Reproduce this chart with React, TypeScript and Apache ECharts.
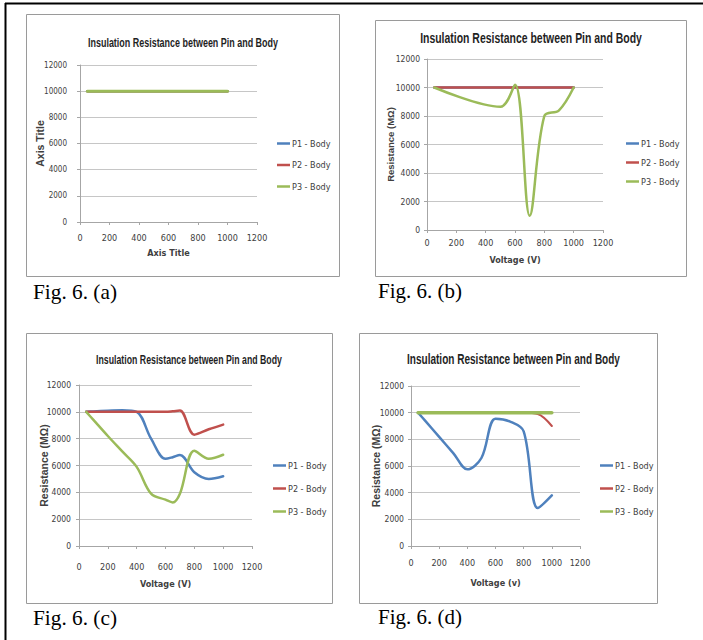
import React, { useEffect, useRef } from "react";
import * as echarts from "echarts";

// ---------- data ----------
const SERIES_NAMES = ["P1 - Body", "P2 - Body", "P3 - Body"];
const CHART_TITLE = "Insulation Resistance between Pin and Body";
const CAPTIONS = ["Fig. 6. (a)", "Fig. 6. (b)", "Fig. 6. (c)", "Fig. 6. (d)"];
const X_TITLES = ["Axis Title", "Voltage (V)", "Voltage (V)", "Voltage (v)"];
const Y_TITLES = ["Axis Title", "Resistance (MΩ)", "Resistance (MΩ)", "Resistance (MΩ)"];
const X_TICKS = { min: 0, max: 1200, interval: 200 };
const Y_TICKS = { min: 0, max: 12000, interval: 2000 };

// Fig. 6 (a)
const aVoltage = [50, 100, 200, 300, 400, 500, 600, 700, 800, 900, 1000];
const aP1 = [10000, 10000, 10000, 10000, 10000, 10000, 10000, 10000, 10000, 10000, 10000];
const aP2 = [10000, 10000, 10000, 10000, 10000, 10000, 10000, 10000, 10000, 10000, 10000];
const aP3 = [10000, 10000, 10000, 10000, 10000, 10000, 10000, 10000, 10000, 10000, 10000];

// Fig. 6 (b)
const bVoltage = [50, 500, 600, 700, 800, 900, 1000];
const bP1 = [10000, 10000, 10000, 10000, 10000, 10000, 10000];
const bP2 = [10000, 10000, 10000, 10000, 10000, 10000, 10000];
const bP3 = [10000, 8650, 10200, 1000, 8000, 8400, 10000];

// Fig. 6 (c)
const cVoltage = [50, 100, 200, 300, 400, 500, 600, 650, 700, 800, 900, 1000];
const cP1 = [10000, 10030, 10080, 10120, 10000, 8000, 6500, 6620, 6780, 5500, 5000, 5200];
const cP2 = [10000, 10000, 10000, 10000, 10000, 10000, 10000, 10040, 10100, 8300, 8700, 9050];
const cP3 = [10000, 9400, 8200, 7050, 5900, 3900, 3450, 3250, 3900, 7100, 6500, 6800];

// Fig. 6 (d)
const dVoltage = [50, 100, 200, 300, 400, 500, 600, 700, 800, 900, 1000];
const dP1 = [10000, 9400, 8180, 6970, 5750, 6600, 9550, 9350, 8600, 2850, 3800];
const dP2 = [10000, 10000, 10000, 10000, 10000, 10000, 10000, 10000, 10000, 9900, 9000];
const dP3 = [10000, 10000, 10000, 10000, 10000, 10000, 10000, 10000, 10000, 10000, 10000];

const PANELS = [
  { voltage: aVoltage, values: [aP1, aP2, aP3] },
  { voltage: bVoltage, values: [bP1, bP2, bP3] },
  { voltage: cVoltage, values: [cP1, cP2, cP3] },
  { voltage: dVoltage, values: [dP1, dP2, dP3] },
];

// ---------- styles / layout ----------
const COLORS = ["#4F81BD", "#C0504D", "#9BBB59"];
const FONT_NARROW = "'DejaVu Sans Condensed', 'Liberation Sans', sans-serif";
const FONT_SANS = "'Liberation Sans', Arial, sans-serif";
const FONT_SERIF = "'Liberation Serif', 'Times New Roman', serif";
const TEXT_COLOR = "#404040";

const LAYOUT = [
  {
    grid: { left: 80, top: 65, width: 177, height: 157 },
    xLabelMargin: 11, xNameGap: 26, yLabelMargin: 13, yLabelSize: 8, yNameGap: 35, yNameSize: 10.5,
    title: { x: 183, y: 42, size: 13, width: 190 },
    legend: { left: 277, top: 139, gap: 12.5 },
    caption: { x: 33, y: 292 },
    box: { x: 26.5, y: 14.5, width: 313, height: 262 },
    widths: [2.5, 2.5, 3],
  },
  {
    grid: { left: 427, top: 59, width: 176, height: 171 },
    xLabelMargin: 8, xNameGap: 25, yLabelMargin: 7, yLabelSize: 8.5, yNameGap: 32, yNameSize: 9.5,
    title: { x: 531, y: 38, size: 14, width: 222 },
    legend: { left: 626, top: 139, gap: 10 },
    caption: { x: 378, y: 291 },
    box: { x: 375.5, y: 20.5, width: 311, height: 256 },
    widths: [2.5, 2.5, 2.5],
  },
  {
    grid: { left: 79, top: 385, width: 173, height: 161 },
    xLabelMargin: 16, xNameGap: 33, yLabelMargin: 8, yLabelSize: 8.5, yNameGap: 30, yNameSize: 10.5,
    title: { x: 189, y: 359, size: 13, width: 186 },
    legend: { left: 273, top: 461, gap: 14 },
    caption: { x: 33, y: 618 },
    box: { x: 26.5, y: 333.5, width: 306, height: 270 },
    widths: [2.5, 2.5, 2.5],
  },
  {
    grid: { left: 411, top: 386, width: 169, height: 160 },
    xLabelMargin: 12, xNameGap: 32, yLabelMargin: 7, yLabelSize: 8.5, yNameGap: 30, yNameSize: 10.5,
    title: { x: 513.5, y: 359, size: 14, width: 213 },
    legend: { left: 600, top: 461, gap: 14 },
    caption: { x: 378, y: 617 },
    box: { x: 359.5, y: 333.5, width: 298, height: 270 },
    widths: [2.5, 2, 3.5],
  },
];
const CAPTION_WIDTH = 84;

function measure(text: string, font: string): number {
  const c = document.createElement("canvas");
  const ctx = c.getContext("2d");
  if (!ctx) return 0;
  ctx.font = font;
  return ctx.measureText(text).width;
}

function buildOption() {
  const grid = LAYOUT.map((l) => ({ ...l.grid, containLabel: false }));
  const xAxis = LAYOUT.map((l, i) => ({
    type: "value",
    gridIndex: i,
    min: X_TICKS.min,
    max: X_TICKS.max,
    interval: X_TICKS.interval,
    name: X_TITLES[i],
    nameLocation: "middle",
    nameGap: l.xNameGap,
    nameMoveOverlap: false,
    nameTextStyle: { fontFamily: FONT_NARROW, fontWeight: "bold", fontSize: 9, color: TEXT_COLOR },
    axisLine: { show: true, onZero: false, lineStyle: { color: "#a6a6a6", width: 1 } },
    axisTick: { show: true, length: 3, lineStyle: { color: "#a6a6a6" } },
    axisLabel: {
      margin: l.xLabelMargin,
      fontFamily: FONT_NARROW,
      fontSize: 9,
      color: TEXT_COLOR,
      formatter: (v: number) => String(v),
    },
    splitLine: { show: false },
  }));
  const yAxis = LAYOUT.map((l, i) => ({
    type: "value",
    gridIndex: i,
    min: Y_TICKS.min,
    max: Y_TICKS.max,
    interval: Y_TICKS.interval,
    name: Y_TITLES[i],
    nameLocation: "middle",
    nameGap: l.yNameGap,
    nameMoveOverlap: false,
    nameTextStyle: { fontFamily: FONT_SANS, fontWeight: "bold", fontSize: l.yNameSize, color: TEXT_COLOR },
    axisLine: { show: true, lineStyle: { color: "#a6a6a6", width: 1 } },
    axisTick: { show: true, length: 3, lineStyle: { color: "#a6a6a6" } },
    axisLabel: {
      margin: l.yLabelMargin,
      fontFamily: FONT_NARROW,
      fontSize: l.yLabelSize,
      color: TEXT_COLOR,
      formatter: (v: number) => String(v),
    },
    splitLine: { show: true, lineStyle: { color: "#c6c6c6", width: 1 } },
  }));

  const series: any[] = [];
  PANELS.forEach((p, i) => {
    p.values.forEach((vals, j) => {
      series.push({
        type: "line",
        name: SERIES_NAMES[j],
        xAxisIndex: i,
        yAxisIndex: i,
        data: p.voltage.map((v, k) => [v, vals[k]]),
        smooth: 0.35,
        symbol: "none",
        showSymbol: false,
        lineStyle: { width: LAYOUT[i].widths[j], color: COLORS[j], cap: "round", join: "round" },
        itemStyle: { color: COLORS[j] },
        emphasis: { disabled: true },
        silent: true,
        z: 2 + j,
      });
    });
  });

  const legend = LAYOUT.map((l) => ({
    data: SERIES_NAMES,
    orient: "vertical",
    left: l.legend.left,
    top: l.legend.top,
    itemGap: l.legend.gap,
    icon: "rect",
    itemWidth: 13,
    itemHeight: 2.5,
    padding: 0,
    selectedMode: false,
    textStyle: { fontFamily: FONT_NARROW, fontSize: 9, color: TEXT_COLOR, padding: [0, 0, 0, -3] },
  }));

  const graphic: any[] = [
    { type: "line", shape: { x1: 5.5, y1: 3, x2: 5.5, y2: 640 }, style: { stroke: "#000", lineWidth: 2 }, silent: true },
    { type: "line", shape: { x1: 5, y1: 3.5, x2: 703, y2: 3.5 }, style: { stroke: "#000", lineWidth: 2 }, silent: true },
  ];
  const captionFont = `20px ${FONT_SERIF}`;
  LAYOUT.forEach((l, i) => {
    graphic.push({
      type: "rect",
      shape: { ...l.box },
      style: { fill: "none", stroke: "#9a9a9a", lineWidth: 1 },
      silent: true,
      z: -1,
    });
    const titleFont = `bold ${l.title.size}px ${FONT_SANS}`;
    const tw = measure(CHART_TITLE, titleFont) || l.title.width;
    graphic.push({
      type: "text",
      x: l.title.x,
      y: l.title.y,
      scaleX: l.title.width / tw,
      style: {
        text: CHART_TITLE,
        font: titleFont,
        fill: "#1f1f1f",
        textAlign: "center",
        textVerticalAlign: "middle",
      },
      silent: true,
    });
    const cw = measure(CAPTIONS[i], captionFont) || CAPTION_WIDTH;
    graphic.push({
      type: "text",
      x: l.caption.x,
      y: l.caption.y,
      scaleX: CAPTION_WIDTH / cw,
      style: {
        text: CAPTIONS[i],
        font: captionFont,
        fill: "#000",
        textAlign: "left",
        textVerticalAlign: "middle",
      },
      silent: true,
    });
  });

  return {
    animation: false,
    backgroundColor: "#ffffff",
    legend,
    grid,
    xAxis,
    yAxis,
    series,
    graphic,
  };
}

export default function App() {
  const ref = useRef<HTMLDivElement | null>(null);
  useEffect(() => {
    document.body.style.margin = "0";
    if (!ref.current) return;
    const chart = echarts.init(ref.current, undefined, { renderer: "svg" });
    chart.setOption(buildOption() as any);
    return () => {
      chart.dispose();
    };
  }, []);
  return <div ref={ref} style={{ width: 703, height: 640 }} />;
}
